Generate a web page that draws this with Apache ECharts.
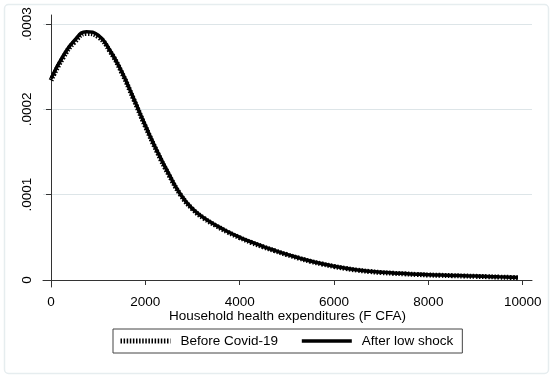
<!DOCTYPE html>
<html>
<head>
<meta charset="utf-8">
<script src="https://cdn.jsdelivr.net/npm/echarts@6/dist/echarts.min.js"></script>
<style>html,body{margin:0;padding:0;background:#fff}#c{width:550px;height:375px}</style>
</head>
<body>
<div id="c"></div>
<script>
const expenditures = [0,250,500,750,1000,1250,1500,1750,2000,2250,2500,2750,3000,3250,3500,3750,4000,4250,4500,4750,5000,5250,5500,5750,6000,6250,6500,6750,7000,7250,7500,7750,8000,8250,8500,8750,9000,9250,9500,9750,9900];
const afterLowShock = [0.000236,0.000262,0.000281,0.000291,0.000287,0.000269,0.000244,0.000213,0.000181,0.000151,0.000124,0.000100,0.0000835,0.0000725,0.0000640,0.0000565,0.0000500,0.0000443,0.0000392,0.0000345,0.0000300,0.0000260,0.0000222,0.0000190,0.0000162,0.0000138,0.0000118,0.0000103,0.0000091,0.0000082,0.0000075,0.0000068,0.0000062,0.0000058,0.0000054,0.0000050,0.0000046,0.0000042,0.0000037,0.0000033,0.0000030];
const beforeCovid = [0.000234,0.000260,0.000279,0.000289,0.000285,0.000268,0.000243,0.000212,0.000180,0.000150,0.000123,0.0000995,0.0000830,0.0000720,0.0000636,0.0000561,0.0000496,0.0000439,0.0000388,0.0000341,0.0000297,0.0000257,0.0000219,0.0000187,0.0000159,0.0000135,0.0000115,0.0000100,0.0000088,0.0000079,0.0000072,0.0000065,0.0000059,0.0000055,0.0000051,0.0000047,0.0000043,0.0000039,0.0000034,0.0000030,0.0000027];
const xTicks = [0,2000,4000,6000,8000,10000];
const yTicks = [0,0.0001,0.0002,0.0003];
const seriesNames = ['Before Covid-19','After low shock'];
const xTitle = 'Household health expenditures (F CFA)';

const font = 'Liberation Sans, Arial, Helvetica, sans-serif';
const chart = echarts.init(document.getElementById('c'), null, {renderer:'canvas'});
const pair = arr => expenditures.map((x,i)=>[x,arr[i]]);
const yFmt = v => v === 0 ? '0' : v.toFixed(4).replace(/^0/, '');

chart.setOption({
  animation:false,
  backgroundColor:'#ffffff',
  graphic:[{type:'rect',left:2,top:2,shape:{width:544,height:369,r:4},style:{fill:'none',stroke:'#e6edef',lineWidth:1.5},silent:true}],
  grid:{left:43,right:18,top:15,bottom:88,containLabel:false},
  xAxis:{type:'value',min:-170,max:10197,
    name:xTitle,nameLocation:'middle',nameGap:22,nameMoveOverlap:false,
    nameTextStyle:{color:'#000',fontFamily:font,fontSize:13.5},
    axisLine:{show:true,lineStyle:{color:'#333',width:1}},
    axisTick:{show:true,length:5,lineStyle:{color:'#333'},customValues:xTicks},
    axisLabel:{color:'#000',fontFamily:font,fontSize:13.5,margin:8,customValues:xTicks,formatter:v=>String(v)},
    splitLine:{show:false}},
  yAxis:{type:'value',min:-0.0000082,max:0.0003106,
    axisLine:{show:true,lineStyle:{color:'#333',width:1}},
    axisTick:{show:true,length:5,lineStyle:{color:'#333'},customValues:yTicks},
    axisLabel:{color:'#000',fontFamily:font,fontSize:13.5,rotate:90,margin:9,formatter:yFmt,customValues:yTicks},
    splitLine:{show:true,lineStyle:{color:'#dde5e8',width:1}}},
  legend:{left:113,top:329,orient:'horizontal',itemWidth:50,itemHeight:14,itemGap:22,
    padding:[5,9,5,5],borderColor:'#444',borderWidth:1,borderRadius:0,
    itemStyle:{opacity:0},
    textStyle:{color:'#000',fontFamily:font,fontSize:13.5,padding:[0,0,0,5]},
    data:[
      {name:seriesNames[0],lineStyle:{width:5,type:[1.5,1.6],color:'#000'}},
      {name:seriesNames[1],lineStyle:{width:3.5,type:'solid',color:'#000'}}
    ]},
  series:[
    {name:seriesNames[0],type:'line',smooth:true,showSymbol:false,symbol:'none',
      data:pair(beforeCovid),z:2,
      lineStyle:{color:'#000',width:5,type:[1.5,1.6]}},
    {name:seriesNames[1],type:'line',smooth:true,showSymbol:false,symbol:'none',
      data:pair(afterLowShock),z:3,
      lineStyle:{color:'#000',width:3.5,type:'solid'}}
  ]
});
</script>
</body>
</html>
